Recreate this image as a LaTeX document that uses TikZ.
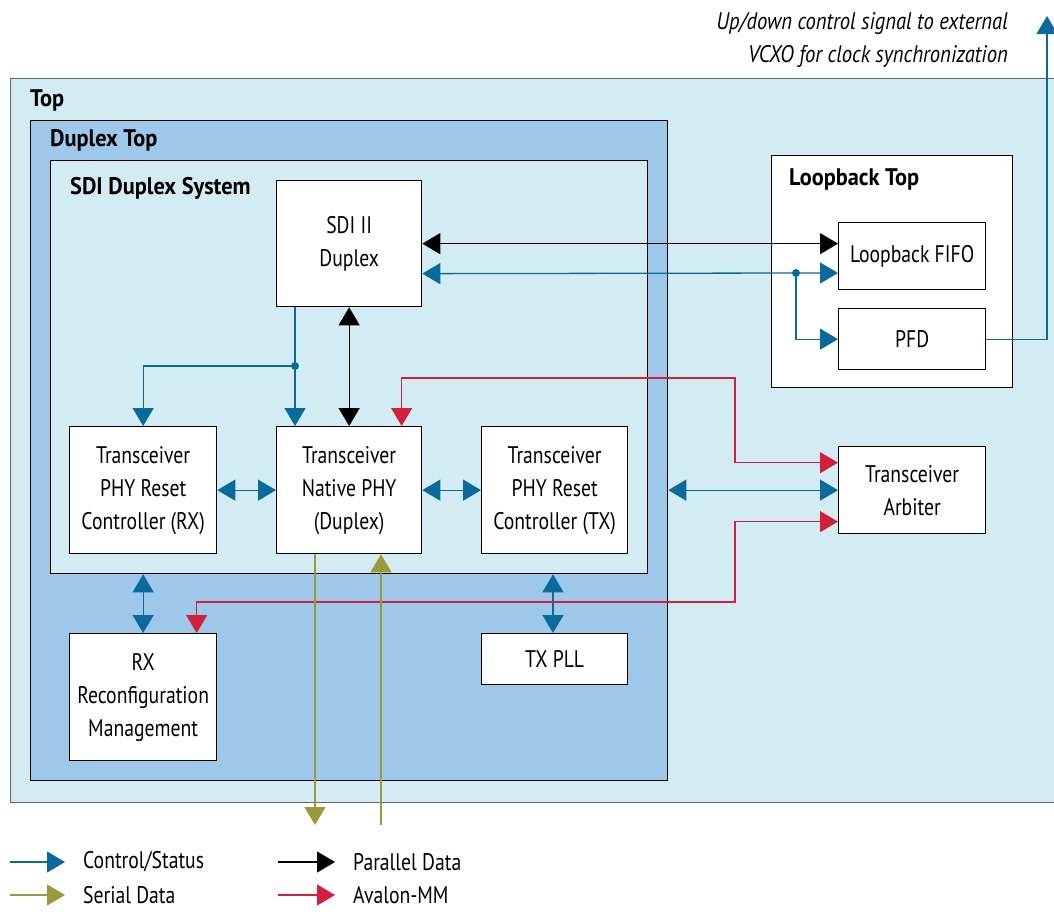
\documentclass[tikz,border=0pt]{standalone}
\usepackage{fontspec}
\setmainfont{PT Sans}[FakeStretch=0.82,
  BoldFeatures={FakeStretch=0.93},
  ItalicFeatures={FakeStretch=0.86}]
\usetikzlibrary{arrows.meta,calc}
\definecolor{topbg}{HTML}{D3ECF3}
\definecolor{dupbg}{HTML}{9DC8E9}
\definecolor{csblue}{HTML}{0A6A9C}
\definecolor{serol}{HTML}{9A9A38}
\definecolor{avred}{HTML}{D21F3C}
\tikzset{
  blk/.style={draw=black, fill=white, line width=1.3pt, align=center, inner sep=0pt,
    anchor=north west, font=\fontsize{24}{33}\selectfont},
  frame/.style={draw=black, line width=1.3pt, anchor=north west, inner sep=0pt},
  ttl/.style={anchor=west, font=\fontsize{24}{28}\selectfont\bfseries, inner sep=0pt},
  link/.style={line width=1.3pt, >={Triangle[length=18pt,width=21pt]}},
  cs/.style={link, draw=csblue},
  pd/.style={link, draw=black},
  sd/.style={link, draw=serol},
  av/.style={link, draw=avred},
  dot/.style={circle, fill=csblue, inner sep=0pt, minimum size=8pt},
  lgd/.style={anchor=west, inner sep=0pt, font=\fontsize{24}{28}\selectfont},
}
\begin{document}
\begin{tikzpicture}[x=1pt,y=-1pt]
\useasboundingbox (0,0) rectangle (1054,913);

% containers
\node[frame, draw=black!60, fill=topbg, minimum width=1060pt, minimum height=724pt] (top) at (10,78) {};
\node[ttl] at (30,100) {Top};
\node[frame, fill=dupbg, minimum width=637pt, minimum height=660pt] (dtop) at (30,120) {};
\node[ttl] at (50,140) {Duplex Top};
\node[frame, fill=topbg, minimum width=597pt, minimum height=413pt] (sys) at (50,160) {};
\node[ttl] at (70,188) {SDI Duplex System};
\node[frame, fill=white, minimum width=241pt, minimum height=232pt] (lbtop) at (771,155) {};
\node[ttl] at (789,179) {Loopback Top};

% functional blocks
\node[blk, minimum width=145pt, minimum height=126pt] (sdi) at (276,180) {SDI II\\Duplex};
\node[blk, minimum width=147pt, minimum height=127pt] (rxrst) at (69,426) {Transceiver\\PHY Reset\\Controller (RX)};
\node[blk, minimum width=145pt, minimum height=127pt] (phy) at (276,426) {Transceiver\\Native PHY\\(Duplex)};
\node[blk, minimum width=146pt, minimum height=127pt] (txrst) at (481,426) {Transceiver\\PHY Reset\\Controller (TX)};
\node[blk, minimum width=147pt, minimum height=127pt] (rxcfg) at (69,633) {RX\\Reconfiguration\\Management};
\node[blk, minimum width=146pt, minimum height=51pt] (txpll) at (481,633) {TX PLL};
\node[blk, minimum width=147pt, minimum height=67pt] (fifo) at (838,222) {Loopback FIFO};
\node[blk, minimum width=147pt, minimum height=61pt] (pfd) at (838,308) {PFD};
\node[blk, minimum width=147pt, minimum height=87pt] (arb) at (838,446) {Transceiver\\Arbiter};

% external note
\node[anchor=north east, align=right, inner sep=0pt,
      font=\fontsize{24}{33}\selectfont\itshape] (note) at (1008,12)
  {Up/down control signal to external\\VCXO for clock synchronization};

% bend points
\coordinate (fj) at (796,273);
\coordinate (sj) at (295,366);
\coordinate (vcxo) at (1047,16);
\coordinate (ra) at (735,378);
\coordinate (rb) at (735,602);
\coordinate (sout) at (315,825);
\coordinate (sin) at (381,825);
\coordinate (txcol) at (553,0);

% parallel data
\draw[pd,<->] (sdi.east) -- (sdi.east -| fifo.west);
\draw[pd,<->] (sdi.south) -- (phy.north);

% control / status
\draw[cs,<->] ([yshift=-30pt]sdi.east) -- (fj) -- (fj -| fifo.west);
\draw[cs,->] (fj) |- (pfd.west);
\node[dot] at (fj) {};
\draw[cs,->] (pfd.east) -| (vcxo);
\draw[cs,->] (sdi.south -| sj) -- (phy.north -| sj);
\draw[cs,->] (sj) -| (rxrst.north);
\node[dot] at (sj) {};
\draw[cs,<->] (rxrst.east) -- (phy.west);
\draw[cs,<->] (phy.east) -- (txrst.west);
\draw[cs,<->] (dtop.east |- arb.west) -- (arb.west);
\draw[cs,<->] (sys.south -| rxcfg.north) -- (rxcfg.north);
\draw[cs,<->] (sys.south -| txcol) -- (txpll.north -| txcol);

% avalon-mm
\draw[av,<->] ([xshift=52.5pt]phy.north) |- (ra) |- ([yshift=27.5pt]arb.west);
\draw[av,<->] ([yshift=-31.5pt]arb.west) -| (rb) -| ([xshift=53.5pt]rxcfg.north);

% serial data
\draw[sd,->] (phy.south -| sout) -- (sout);
\draw[sd,->] (sin) -- (phy.south -| sin);

% legend
\coordinate (l1a) at (10,862); \coordinate (l1b) at (65,862);
\coordinate (l2a) at (10,895); \coordinate (l2b) at (65,895);
\coordinate (l3a) at (278,862); \coordinate (l3b) at (335,862);
\coordinate (l4a) at (278,895); \coordinate (l4b) at (335,895);
\draw[cs,->] (l1a) -- (l1b);
\draw[sd,->] (l2a) -- (l2b);
\draw[pd,->] (l3a) -- (l3b);
\draw[av,->] (l4a) -- (l4b);
\node[lgd] (t1) at (83,862) {Control/Status};
\node[lgd] (t2) at (83,895) {Serial Data};
\node[lgd] (t3) at (353,862) {Parallel Data};
\node[lgd] (t4) at (353,895) {Avalon-MM};
\end{tikzpicture}
\end{document}
